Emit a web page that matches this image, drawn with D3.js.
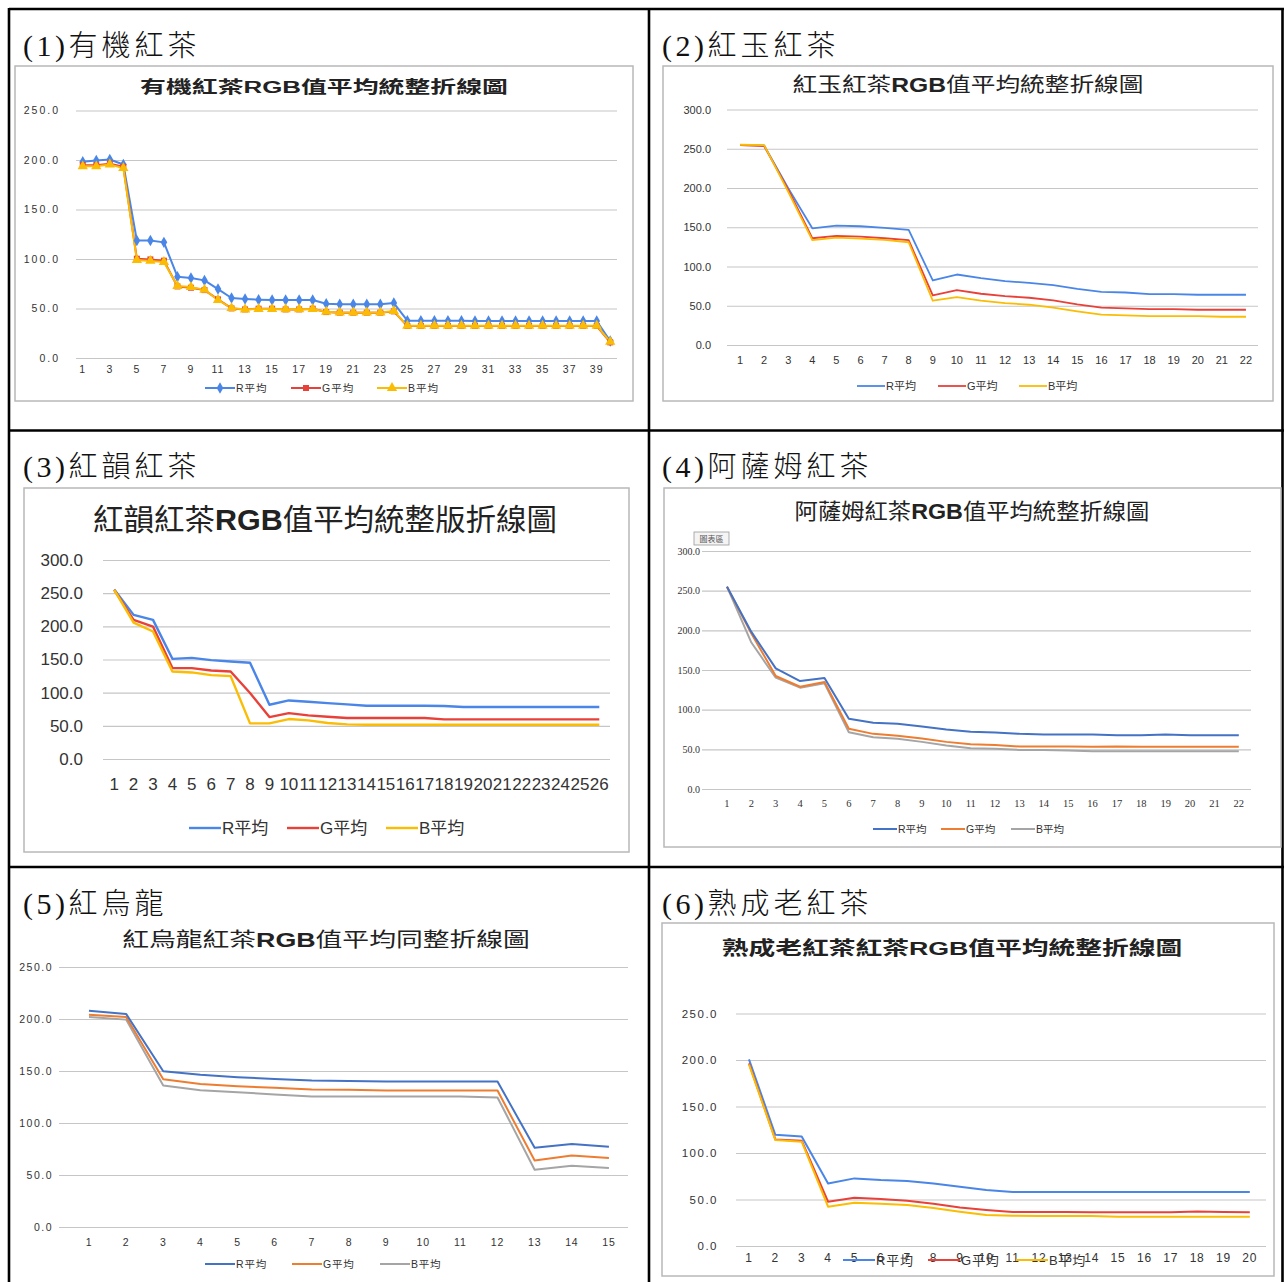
<!DOCTYPE html>
<html>
<head>
<meta charset="utf-8">
<script src="https://cdn.jsdelivr.net/npm/d3@7"></script>
<style>
  html, body { margin: 0; padding: 0; background: #fff; }
  svg { display: block; }
</style>
</head>
<body>
<svg id="sheet" width="1284" height="1282"></svg>
<script>
// ---- data: average R/G/B values per sample, six tea types ----
const seriesNames = ["R平均", "G平均", "B平均"];

// (1) 有機紅茶 — 40 samples
const organicCats = d3.range(1, 41);
const organicR = [198.2,199.5,200.5,195.5,118.8,118.8,116.8,82.1,80.8,78.4,69.6,60.6,59.6,58.9,58.5,58.5,58.5,58.5,54.8,54.2,54.2,54.2,54.2,55.5,37.7,37.7,37.7,37.7,37.7,37.4,37.4,37.4,37.4,37.4,37.4,37.4,37.4,37.4,37.4,17.2];
const organicG = [194.8,194.8,196.2,193.1,100.3,99.6,98.3,72.3,71.0,68.6,59.2,50.1,49.1,49.8,49.8,49.1,49.1,49.8,46.4,45.8,45.8,45.8,45.8,47.1,32.3,32.3,32.3,32.3,32.3,32.3,32.3,32.3,32.3,32.3,32.3,32.3,32.3,32.3,32.3,15.8];
const organicB = [193.6,193.6,195.4,191.8,99.0,98.1,97.0,72.8,71.6,68.9,58.6,50.4,49.0,49.5,49.5,49.2,49.2,49.5,46.7,46.0,46.0,46.0,46.0,47.4,32.6,32.6,32.6,32.6,32.6,32.6,32.6,32.6,32.6,32.6,32.6,32.6,32.6,32.6,32.6,16.3];

// (2) 紅玉紅茶 — 22 samples
const rubyCats = d3.range(1, 23);
const rubyR = [254.7,254.2,199.6,148.7,152.1,151.3,149.2,146.6,82.2,89.8,85.2,81.4,79.2,76.3,71.6,67.8,66.9,64.8,64.8,64.0,64.0,64.0];
const rubyG = [254.7,253.4,198.0,136.0,139.0,138.1,136.0,133.5,63.1,69.9,65.3,62.3,60.2,56.8,51.7,47.5,46.6,45.8,45.8,44.9,44.9,44.9];
const rubyB = [255.1,254.7,195.0,133.5,136.9,135.6,133.9,130.9,56.4,61.0,56.4,53.4,51.3,47.5,42.8,38.6,37.7,36.9,36.9,36.9,36.0,36.0];

// (3) 紅韻紅茶 — 26 samples
const hongyunCats = d3.range(1, 27);
const hongyunR = [255.5,217.3,209.7,151.0,152.5,149.0,147.0,145.0,81.8,88.3,86.3,84.3,82.3,80.3,80.3,80.3,80.3,79.8,78.3,78.3,78.3,78.3,78.3,78.3,78.3,78.3];
const hongyunG = [255.0,209.7,199.7,137.0,137.0,133.5,132.0,99.5,63.2,69.2,65.7,63.7,61.7,61.7,61.7,61.7,61.7,59.7,59.7,59.7,59.7,59.7,59.7,59.7,59.7,59.7];
const hongyunB = [255.0,205.7,192.2,132.0,130.5,126.4,125.0,53.7,53.7,60.2,58.2,54.2,52.2,51.7,51.7,51.7,51.7,51.7,51.7,51.7,51.7,51.7,51.7,51.7,51.7,51.7];

// (4) 阿薩姆紅茶 — 22 samples
const assamCats = d3.range(1, 23);
const assamR = [255.0,198.0,152.1,136.1,139.9,88.5,83.4,82.2,78.8,75.0,72.1,71.2,69.5,68.7,68.7,68.7,67.8,67.8,68.7,67.8,67.8,67.8];
const assamG = [255.0,196.0,142.4,128.9,134.8,75.9,69.5,67.0,63.6,59.4,56.5,55.6,53.5,53.5,53.5,53.1,53.5,53.1,53.1,53.1,53.1,53.1];
const assamB = [255.0,184.6,140.3,127.7,133.2,71.6,65.3,63.2,59.4,54.8,51.4,50.6,49.3,49.3,48.5,47.6,47.6,47.6,47.6,47.6,47.6,47.6];

// (5) 紅烏龍 — 15 samples
const oolongCats = d3.range(1, 16);
const oolongR = [208.0,204.9,149.8,146.3,144.0,142.4,140.8,140.5,139.9,139.9,139.9,139.9,76.2,79.7,77.1];
const oolongG = [204.2,202.0,142.1,137.6,135.4,133.8,132.2,131.9,131.2,131.2,131.2,131.2,64.0,68.8,66.3];
const oolongB = [202.0,199.4,136.0,131.6,129.6,127.4,125.5,125.5,125.5,125.5,125.5,124.5,55.1,58.9,56.7];

// (6) 熟成老紅茶 — 20 samples
const agedCats = d3.range(1, 21);
const agedR = [200.6,119.6,117.8,67.3,72.7,70.9,69.8,67.3,63.8,60.2,58.0,58.0,58.0,58.0,58.0,58.0,58.0,58.0,58.0,58.0];
const agedG = [196.3,114.6,113.2,47.6,51.9,50.5,48.7,45.5,41.5,38.7,36.5,36.5,36.5,36.2,36.2,36.2,36.2,37.2,36.5,36.2];
const agedB = [195.2,113.9,112.1,42.3,46.6,45.5,44.1,40.8,36.9,33.3,32.6,32.2,32.2,32.2,31.5,31.5,31.5,31.5,31.5,31.5];

const ticks250 = [0, 50, 100, 150, 200, 250];
const ticks300 = [0, 50, 100, 150, 200, 250, 300];

// ---- drawing ----
const svg = d3.select("#sheet");
const CJK = "'Noto Sans CJK TC', 'Noto Sans CJK SC', sans-serif";
const SANS = "'Liberation Sans', Arial, " + CJK;
const googleColors = ["#4a86e8", "#e8413a", "#fbbc04"];
const officeColors = ["#4472c4", "#ed7d31", "#a5a5a5"];

// table frame
const frame = svg.append("g").attr("stroke", "#000").attr("stroke-width", 2.6);
[[9, 9, 1284, 9], [9, 430.5, 1284, 430.5], [9, 867, 1284, 867],
 [9, 8, 9, 1282], [649, 8, 649, 1282], [1282.5, 8, 1282.5, 1282]]
  .forEach(([x1, y1, x2, y2]) => frame.append("line").attr("x1", x1).attr("y1", y1).attr("x2", x2).attr("y2", y2));

// cell captions
const captions = [
  { num: "(1)", name: "有機紅茶", x: 23, y: 56 },
  { num: "(2)", name: "紅玉紅茶", x: 662, y: 56 },
  { num: "(3)", name: "紅韻紅茶", x: 23, y: 477 },
  { num: "(4)", name: "阿薩姆紅茶", x: 662, y: 477 },
  { num: "(5)", name: "紅烏龍", x: 23, y: 914 },
  { num: "(6)", name: "熟成老紅茶", x: 662, y: 914 }
];
captions.forEach(c => {
  const t = svg.append("text").attr("x", c.x).attr("y", c.y).attr("fill", "#111");
  t.append("tspan").attr("font-family", "'Liberation Serif', 'DejaVu Serif', serif")
    .attr("font-size", 30).attr("letter-spacing", 3.5).text(c.num);
  t.append("tspan").attr("font-family", CJK).attr("font-size", 29).attr("font-weight", 300)
    .attr("letter-spacing", 4).text(c.name);
});

function drawChart(cfg) {
  const g = svg.append("g");
  if (cfg.box) {
    const [x0, y0, x1, y1] = cfg.box;
    g.append("rect").attr("x", x0).attr("y", y0).attr("width", x1 - x0).attr("height", y1 - y0)
      .attr("fill", "#fff").attr("stroke", "#b8b8b8").attr("stroke-width", 1.5);
  }

  // title: CJK parts in one weight, "RGB" bold; stretched horizontally to its set width
  const title = g.append("text").attr("x", cfg.titleX).attr("y", cfg.titleY)
    .attr("text-anchor", "middle").attr("font-size", cfg.titleSize).attr("fill", "#222")
    .attr("font-family", CJK);
  cfg.titleParts.forEach(p => {
    title.append("tspan").attr("font-weight", p.bold ? 700 : (cfg.titleWeight || 400))
      .attr("font-family", p.latin ? "'Liberation Sans', Arial, sans-serif" : CJK).text(p.text);
  });
  const natural = title.node().getComputedTextLength();
  const sx = cfg.titleWidth / natural;
  title.attr("transform", `translate(${cfg.titleX},0) scale(${sx},1) translate(${-cfg.titleX},0)`);

  const y = d3.scaleLinear().domain([0, cfg.yMax]).range(cfg.ySpan);
  const x = d3.scaleBand().domain(cfg.cats).range(cfg.xRange);
  const cx = d => x(d) + x.bandwidth() / 2;

  // y axis with gridlines
  const yAxis = d3.axisLeft(y).tickValues(cfg.yTicks).tickFormat(d3.format(".1f"))
    .tickSize(-(cfg.grid[1] - cfg.grid[0])).tickPadding(cfg.grid[0] - cfg.yLabelRight);
  const ya = g.append("g").attr("transform", `translate(${cfg.grid[0]},0)`).call(yAxis);
  ya.select(".domain").remove();
  ya.selectAll(".tick line").attr("stroke", cfg.gridColor || "#c6c6c6").attr("stroke-width", 1.2);
  ya.selectAll(".tick text").attr("font-family", cfg.tickFont || SANS).attr("font-size", cfg.yLabelSize)
    .attr("fill", "#333").attr("letter-spacing", cfg.ySpacing != null ? cfg.ySpacing : (cfg.tickSpacing || 0));

  // x axis labels
  const shown = cfg.cats.filter((d, i) => i % (cfg.xEvery || 1) === 0);
  const xAxis = d3.axisBottom(x).tickValues(shown).tickSize(0);
  const xa = g.append("g").attr("transform", `translate(0,${cfg.ySpan[0]})`).call(xAxis);
  xa.select(".domain").remove();
  xa.selectAll(".tick text").attr("dy", null).attr("y", cfg.xLabelY - cfg.ySpan[0])
    .attr("font-family", cfg.xTickFont || cfg.tickFont || SANS).attr("font-size", cfg.xLabelSize)
    .attr("fill", "#333").attr("letter-spacing", cfg.tickSpacing || 0);

  // series lines
  const line = d3.line().x((d, i) => cx(cfg.cats[i])).y(d => y(d));
  const order = cfg.drawOrder || [0, 1, 2];
  order.forEach(k => {
    g.append("path").datum(cfg.series[k]).attr("d", line).attr("fill", "none")
      .attr("stroke", cfg.colors[k]).attr("stroke-width", cfg.lineWidth).attr("stroke-linejoin", "round");
  });
  const symbols = [d3.symbolDiamond, d3.symbolSquare, d3.symbolTriangle];
  const symSize = [38, 36, 46];
  if (cfg.markers) {
    order.forEach(k => {
      g.append("g").selectAll("path").data(cfg.series[k]).join("path")
        .attr("transform", (d, i) => `translate(${cx(cfg.cats[i])},${y(d)})`)
        .attr("d", d3.symbol().type(symbols[k]).size(symSize[k]))
        .attr("fill", cfg.colors[k]);
    });
  }

  // legend
  const lg = g.append("g");
  seriesNames.forEach((name, k) => {
    const lx = cfg.legendX[k];
    lg.append("line").attr("x1", lx).attr("x2", lx + cfg.legendLen)
      .attr("y1", cfg.legendY).attr("y2", cfg.legendY)
      .attr("stroke", cfg.colors[k]).attr("stroke-width", cfg.lineWidth);
    if (cfg.markers) {
      lg.append("path").attr("transform", `translate(${lx + cfg.legendLen / 2},${cfg.legendY})`)
        .attr("d", d3.symbol().type(symbols[k]).size(symSize[k])).attr("fill", cfg.colors[k]);
    }
    lg.append("text").attr("x", lx + cfg.legendLen + 1).attr("y", cfg.legendY).attr("dy", "0.36em")
      .attr("font-family", SANS).attr("font-size", cfg.legendSize).attr("fill", "#333")
      .attr("letter-spacing", cfg.tickSpacing || 0).text(name);
  });
  return g;
}

drawChart({
  box: [15, 66, 633, 401],
  titleParts: [{ text: "有機紅茶" }, { text: "RGB", bold: true, latin: true }, { text: "值平均統整折線圖" }],
  titleWeight: 700, titleX: 324, titleY: 93, titleSize: 17, titleWidth: 368,
  cats: organicCats, series: [organicR, organicG, organicB], colors: googleColors,
  yMax: 250, yTicks: ticks250, ySpan: [358, 110.5], xRange: [76, 617], grid: [76, 617],
  yLabelRight: 60, yLabelSize: 10.5, ySpacing: 2, xLabelY: 373, xLabelSize: 10.5, xEvery: 2,
  tickSpacing: 1, lineWidth: 2, markers: true,
  legendX: [205, 291, 377], legendY: 388, legendLen: 30, legendSize: 10.5
});

drawChart({
  box: [663, 66, 1273, 401],
  titleParts: [{ text: "紅玉紅茶" }, { text: "RGB", bold: true, latin: true }, { text: "值平均統整折線圖" }],
  titleX: 968, titleY: 92, titleSize: 20, titleWidth: 351,
  cats: rubyCats, series: [rubyR, rubyG, rubyB], colors: googleColors,
  yMax: 300, yTicks: ticks300, ySpan: [345, 109.5], xRange: [728, 1258], grid: [727, 1258],
  yLabelRight: 711, yLabelSize: 11, xLabelY: 364, xLabelSize: 11,
  lineWidth: 1.8, legendX: [857, 938, 1019], legendY: 386, legendLen: 28, legendSize: 11
});

drawChart({
  box: [24, 488, 629, 852],
  titleParts: [{ text: "紅韻紅茶" }, { text: "RGB", bold: true, latin: true }, { text: "值平均統整版折線圖" }],
  titleX: 325, titleY: 530, titleSize: 30, titleWidth: 464,
  cats: hongyunCats, series: [hongyunR, hongyunG, hongyunB], colors: googleColors,
  yMax: 300, yTicks: ticks300, ySpan: [759, 560], xRange: [104.5, 609], grid: [103, 610],
  yLabelRight: 83, yLabelSize: 17, xLabelY: 790, xLabelSize: 17,
  tickFont: "'Liberation Sans Narrow', 'Liberation Sans', Arial, sans-serif",
  lineWidth: 2.4, legendX: [189, 287, 386], legendY: 828, legendLen: 32, legendSize: 17
});

const assam = drawChart({
  box: [664, 488, 1281, 847],
  titleParts: [{ text: "阿薩姆紅茶" }, { text: "RGB", bold: true, latin: true }, { text: "值平均統整折線圖" }],
  titleX: 972, titleY: 519, titleSize: 22, titleWidth: 355,
  cats: assamCats, series: [assamR, assamG, assamB], colors: officeColors, drawOrder: [2, 1, 0],
  yMax: 300, yTicks: ticks300, ySpan: [789, 551], xRange: [714.8, 1251], grid: [702, 1251],
  yLabelRight: 700, yLabelSize: 10, xLabelY: 807, xLabelSize: 10.5,
  tickFont: "'Liberation Serif', 'DejaVu Serif', serif",
  lineWidth: 2, legendX: [873, 941, 1011], legendY: 829, legendLen: 24, legendSize: 10.5
});
// chart-area hover tag
assam.append("rect").attr("x", 694).attr("y", 532).attr("width", 35).attr("height", 13)
  .attr("fill", "#f4f4f4").attr("stroke", "#999").attr("stroke-width", 0.8);
assam.append("text").attr("x", 711.5).attr("y", 542).attr("text-anchor", "middle")
  .attr("font-family", CJK).attr("font-size", 8).attr("fill", "#555").text("圖表區");

drawChart({
  titleParts: [{ text: "紅烏龍紅茶" }, { text: "RGB", bold: true, latin: true }, { text: "值平均同整折線圖" }],
  titleX: 326, titleY: 947, titleSize: 20, titleWidth: 408,
  cats: oolongCats, series: [oolongR, oolongG, oolongB], colors: officeColors, drawOrder: [2, 1, 0],
  yMax: 250, yTicks: ticks250, ySpan: [1227, 967], xRange: [70.4, 627.5], grid: [59, 628],
  yLabelRight: 53, yLabelSize: 10.5, ySpacing: 1.5, xLabelY: 1246, xLabelSize: 10.5, tickSpacing: 0.8,
  lineWidth: 2, legendX: [205, 292, 380], legendY: 1264, legendLen: 30, legendSize: 10.5
});

drawChart({
  box: [662, 923, 1274, 1276],
  titleParts: [{ text: "熟成老紅茶紅茶" }, { text: "RGB", bold: true, latin: true }, { text: "值平均統整折線圖" }],
  titleWeight: 700, titleX: 952, titleY: 955, titleSize: 19, titleWidth: 461,
  cats: agedCats, series: [agedR, agedG, agedB], colors: googleColors,
  yMax: 250, yTicks: ticks250, ySpan: [1246, 1013.5], xRange: [735.8, 1263], grid: [736, 1266],
  yLabelRight: 718, yLabelSize: 11.5, ySpacing: 1.5, xLabelY: 1262, xLabelSize: 12, tickSpacing: 0.8,
  lineWidth: 2, legendX: [843, 928, 1016], legendY: 1260, legendLen: 32, legendSize: 13
});
</script>
</body>
</html>
